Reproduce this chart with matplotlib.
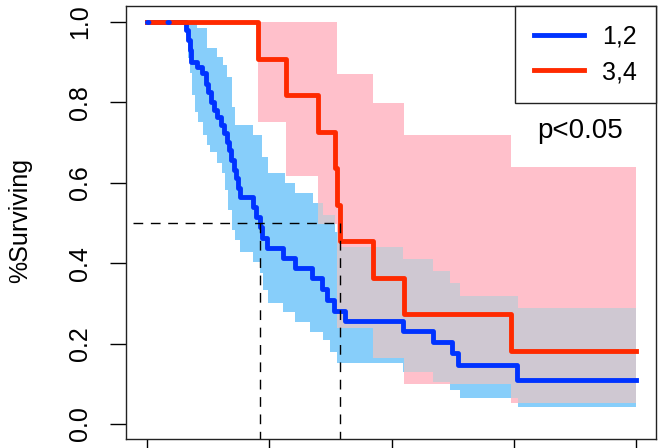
import numpy as np
import matplotlib.pyplot as plt

plt.rcParams['font.family'] = ['Liberation Sans', 'DejaVu Sans']

# Kaplan-Meier curve, group "1,2"
t12 = [0, 6.38, 6.70, 7.03, 7.20, 8.18, 8.99, 9.65, 9.98, 10.47,
       10.96, 11.45, 12.10, 12.59, 13.08, 13.41, 13.74, 14.23, 14.55, 14.88,
       15.21, 17.33, 17.82, 18.48, 18.81, 19.62, 22.24, 24.20, 26.98, 28.62,
       29.44, 30.58, 32.38, 41.86, 46.77, 49.88, 50.86, 60.51]
s12 = [1.0, 0.980, 0.955, 0.930, 0.900, 0.888, 0.873, 0.846, 0.826, 0.801,
       0.781, 0.764, 0.744, 0.724, 0.701, 0.682, 0.657, 0.632, 0.612, 0.587,
       0.565, 0.540, 0.515, 0.490, 0.463, 0.438, 0.413, 0.388, 0.363, 0.336,
       0.308, 0.281, 0.256, 0.231, 0.204, 0.177, 0.147, 0.109]

# group "3,4"
t34 = [0, 18.15, 22.73, 27.96, 30.74, 31.15, 31.56, 36.96, 42.03, 59.53]
s34 = [1.0, 0.909, 0.818, 0.727, 0.636, 0.545, 0.455, 0.364, 0.273, 0.182]

# confidence bands
tu12 = [6.38, 8.18, 9.81, 11.45, 12.43, 13.08, 13.90, 14.39, 17.33, 18.81,
        19.79, 22.57, 24.20, 27.15, 28.78, 30.74, 31.56, 41.86, 46.77, 49.55,
        51.19, 60.67]
u12 = [1.0, 0.985, 0.935, 0.913, 0.893, 0.863, 0.789, 0.744, 0.719, 0.664,
       0.624, 0.600, 0.575, 0.550, 0.520, 0.478, 0.440, 0.410, 0.381, 0.351,
       0.318, 0.289]
tl12 = [6.38, 6.70, 7.03, 7.36, 7.85, 8.34, 9.16, 9.81, 10.30, 11.45,
        12.26, 12.76, 13.25, 13.90, 14.39, 15.21, 17.33, 18.48, 18.97, 19.79,
        22.24, 24.20, 26.66, 28.78, 29.93, 31.07, 41.86, 46.77, 49.55, 51.19,
        60.67]
l12 = [0.968, 0.910, 0.873, 0.818, 0.776, 0.751, 0.719, 0.694, 0.677, 0.649,
       0.624, 0.582, 0.532, 0.483, 0.458, 0.428, 0.403, 0.376, 0.333, 0.301,
       0.279, 0.254, 0.229, 0.209, 0.179, 0.152, 0.129, 0.104, 0.085, 0.065,
       0.042]

tu34 = [18.15, 31.15, 36.96, 42.03, 59.53]
u34 = [1.0, 0.871, 0.799, 0.719, 0.639]
tl34 = [18.15, 22.73, 27.96, 31.15, 36.96, 42.03, 59.53]
l34 = [0.751, 0.617, 0.498, 0.239, 0.164, 0.100, 0.052]

t_end = 80
labels = ['1,2', '3,4']
p_text = 'p<0.05'

BLUE = '#0033ff'
RED = '#ff2a00'
PINK = '#ffc0cb'
SKY = '#87cefa'
BOTH = '#cfc8d2'


def stepfun(t, v, x):
    idx = np.searchsorted(t, x, side='right') - 1
    return np.asarray(v)[idx]


def band_grid(*times):
    start = max(ts[0] for ts in times)
    g = np.unique(np.concatenate([np.asarray(ts) for ts in times] + [[t_end]]))
    return g[g >= start]


fig = plt.figure(figsize=(6.64, 4.48), dpi=100)
ax = fig.add_axes([126/664, 1-439/448, 530/664, 433/448])

# bands
g = band_grid(tu34, tl34)
ax.fill_between(g, stepfun(tl34, l34, g), stepfun(tu34, u34, g),
                step='post', color=PINK, lw=0)
g = band_grid(tu12, tl12)
ax.fill_between(g, stepfun(tl12, l12, g), stepfun(tu12, u12, g),
                step='post', color=SKY, lw=0)
g = band_grid(tu12, tl12, tu34, tl34)
lo = np.maximum(stepfun(tl12, l12, g), stepfun(tl34, l34, g))
hi = np.minimum(stepfun(tu12, u12, g), stepfun(tu34, u34, g))
ax.fill_between(g, lo, np.maximum(hi, lo), step='post', color=BOTH, lw=0)

# curves
line12, = ax.step(t12 + [t_end], s12 + [s12[-1]], where='post', color=BLUE, lw=3.5)
line34, = ax.step(t34 + [t_end], s34 + [s34[-1]], where='post', color=RED, lw=3.5)
ax.plot([t12[0], t12[1]], [s12[0], s12[0]], color=BLUE, lw=3.5,
        dashes=(0.3, 3.9), dash_capstyle='round')

# medians
def median_time(t, s):
    return t[next(i for i, v in enumerate(s) if v <= 0.5)]

m12 = median_time(t12, s12)
m34 = median_time(t34, s34)
ax.plot([-2.3, m34], [0.5, 0.5], color='black', lw=1.0, dashes=(7, 5.5))
for m in (m12, m34):
    ax.plot([m, m], [0.5, -0.1], color='black', lw=1.0, dashes=(7, 5.5))

ax.set_xlim(-3.43, 83.24)
ax.set_ylim(-0.0373, 1.0398)
ax.set_xticks([0, 20, 40, 60, 80])
ax.set_xticklabels([])
ax.set_yticks([0, 0.2, 0.4, 0.6, 0.8, 1.0])
ax.set_yticklabels(['0.0', '0.2', '0.4', '0.6', '0.8', '1.0'],
                   rotation=90, va='center', fontsize=18)
ax.tick_params(length=11.5, width=1.0, pad=13)
for sp in ax.spines.values():
    sp.set_linewidth(1.0)
    sp.set_color('#222222')

fig.text(20/664, 0.507, '%Surviving', rotation=90, ha='center', va='center',
         fontsize=18)

leg = ax.legend([line12, line34], labels, loc='upper right', borderaxespad=0,
                fancybox=False, edgecolor='#222222', framealpha=1, fontsize=18,
                handlelength=2.0, handletextpad=0.75, borderpad=0.75,
                labelspacing=0.45)
leg.get_frame().set_linewidth(1.0)

ax.text(70.8, 0.73, p_text, ha='center', va='center', fontsize=20)

fig.savefig('out.png', dpi=100)
